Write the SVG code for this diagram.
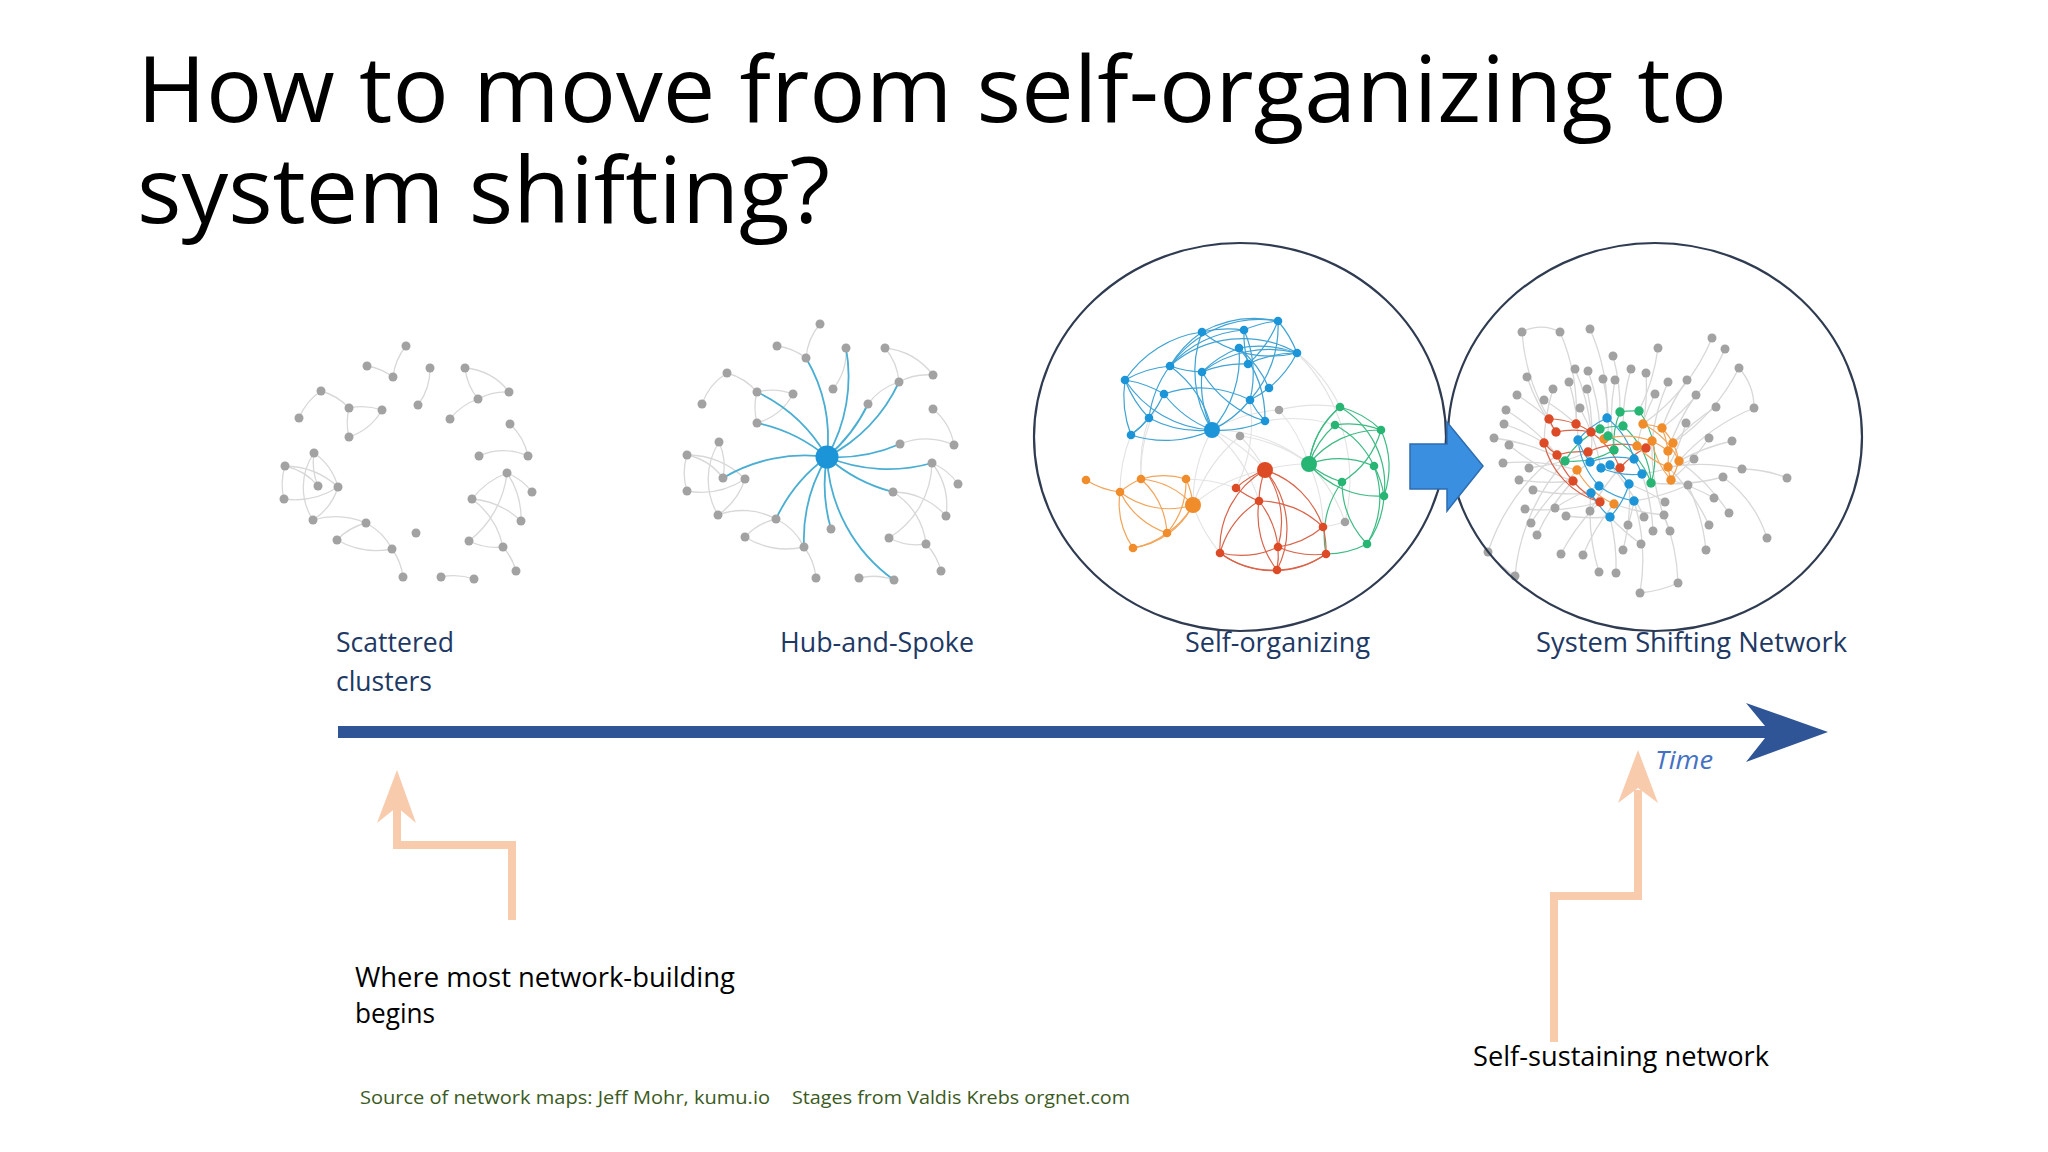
<svg xmlns="http://www.w3.org/2000/svg" width="2048" height="1152" viewBox="0 0 2048 1152">
<style>
.t{font-family:"Open Sans","Liberation Sans",sans-serif}
.title{font-size:92px;fill:#000}
.lbl{font-size:27px;fill:#203864}
.note{font-size:27px;fill:#000}
.src{font-size:19px;fill:#3b5a22}
.gn{fill:#a2a2a2}
.ge{fill:none;stroke:#d8d8d8;stroke-width:1.3}
.xe{fill:none;stroke:#e3e3e3;stroke-width:1.1}
.bn{fill:#1b95d8}
.be{fill:none;stroke:#3fa3d4;stroke-width:1.2}
.sp{fill:none;stroke:#4aaed3;stroke-width:1.8}
.grn{fill:#27b574}
.gre{fill:none;stroke:#3dbb83;stroke-width:1.2}
.rn{fill:#dd4a26}
.re{fill:none;stroke:#d9644a;stroke-width:1.2}
.on{fill:#f08c2a}
.oe{fill:none;stroke:#f2a55a;stroke-width:1.2}
.ring{fill:none;stroke:#2f3b50;stroke-width:2.2}
.peach{fill:none;stroke:#f8cbad;stroke-width:8}
</style>
<rect width="2048" height="1152" fill="#ffffff"/>

<g id="title" class="t title">
<text x="137" y="122" textLength="1590" lengthAdjust="spacingAndGlyphs">How to move from self-organizing to</text>
<text x="137" y="223" textLength="693" lengthAdjust="spacingAndGlyphs">system shifting?</text>
</g>

<g id="scattered-clusters">
<g class="ge">
<path d="M393 377 A60 60 0 0 1 406 346"/>
<path d="M367 366 A60 60 0 0 1 393 377"/>
<path d="M430 368 A60 60 0 0 1 418 405"/>
<path d="M465 368 A60 60 0 0 1 509 392"/>
<path d="M465 368 A60 60 0 0 0 478 399"/>
<path d="M478 399 A60 60 0 0 1 509 392"/>
<path d="M450 419 A60 60 0 0 1 478 399"/>
<path d="M299 418 A60 60 0 0 1 321 391"/>
<path d="M321 391 A60 60 0 0 1 349 408"/>
<path d="M349 408 A60 60 0 0 1 382 410"/>
<path d="M349 437 A60 60 0 0 1 349 408"/>
<path d="M349 437 A60 60 0 0 0 382 410"/>
<path d="M510 424 A60 60 0 0 1 528 456"/>
<path d="M479 456 A60 60 0 0 1 528 456"/>
<path d="M285 466 A80 80 0 0 1 338 487"/>
<path d="M285 466 A60 60 0 0 1 318 486"/>
<path d="M284 499 A60 60 0 0 1 285 466"/>
<path d="M284 499 A80 80 0 0 0 338 487"/>
<path d="M314 453 A60 60 0 0 1 338 487"/>
<path d="M313 520 A60 60 0 0 1 314 453"/>
<path d="M313 520 A60 60 0 0 0 338 487"/>
<path d="M314 453 A60 60 0 0 0 318 486"/>
<path d="M313 520 A80 80 0 0 1 366 523"/>
<path d="M337 540 A60 60 0 0 1 366 523"/>
<path d="M337 540 A80 80 0 0 0 392 549"/>
<path d="M366 523 A60 60 0 0 1 392 549"/>
<path d="M392 549 A60 60 0 0 1 403 577"/>
<path d="M472 499 A80 80 0 0 1 507 473"/>
<path d="M507 473 A60 60 0 0 1 532 492"/>
<path d="M507 473 A80 80 0 0 1 521 521"/>
<path d="M472 499 A80 80 0 0 1 521 521"/>
<path d="M472 499 A80 80 0 0 1 503 547"/>
<path d="M469 541 A100 100 0 0 0 507 473"/>
<path d="M469 541 A60 60 0 0 0 503 547"/>
<path d="M503 547 A60 60 0 0 1 516 571"/>
<path d="M441 577 A60 60 0 0 1 474 579"/>
</g>
<g class="gn">
<circle cx="406" cy="346" r="4.5"/><circle cx="367" cy="366" r="4.5"/><circle cx="393" cy="377" r="4.5"/>
<circle cx="430" cy="368" r="4.5"/><circle cx="418" cy="405" r="4.5"/><circle cx="465" cy="368" r="4.5"/>
<circle cx="509" cy="392" r="4.5"/><circle cx="478" cy="399" r="4.5"/><circle cx="450" cy="419" r="4.5"/>
<circle cx="321" cy="391" r="4.5"/><circle cx="299" cy="418" r="4.5"/><circle cx="349" cy="408" r="4.5"/>
<circle cx="382" cy="410" r="4.5"/><circle cx="349" cy="437" r="4.5"/><circle cx="510" cy="424" r="4.5"/>
<circle cx="479" cy="456" r="4.5"/><circle cx="528" cy="456" r="4.5"/><circle cx="314" cy="453" r="4.5"/>
<circle cx="285" cy="466" r="4.5"/><circle cx="318" cy="486" r="4.5"/><circle cx="338" cy="487" r="4.5"/>
<circle cx="284" cy="499" r="4.5"/><circle cx="313" cy="520" r="4.5"/><circle cx="507" cy="473" r="4.5"/>
<circle cx="532" cy="492" r="4.5"/><circle cx="472" cy="499" r="4.5"/><circle cx="521" cy="521" r="4.5"/>
<circle cx="366" cy="523" r="4.5"/><circle cx="337" cy="540" r="4.5"/><circle cx="392" cy="549" r="4.5"/>
<circle cx="416" cy="533" r="4.5"/><circle cx="469" cy="541" r="4.5"/><circle cx="503" cy="547" r="4.5"/>
<circle cx="403" cy="577" r="4.5"/><circle cx="441" cy="577" r="4.5"/><circle cx="474" cy="579" r="4.5"/>
<circle cx="516" cy="571" r="4.5"/>
</g>
<text class="t lbl" x="336" y="652" textLength="118" lengthAdjust="spacingAndGlyphs">Scattered</text>
<text class="t lbl" x="336" y="691" textLength="96" lengthAdjust="spacingAndGlyphs">clusters</text>
</g>

<g id="hub-and-spoke">
<g class="ge">
<path d="M820 324 A60 60 0 0 0 806 358"/>
<path d="M777 346 A60 60 0 0 1 806 358"/>
<path d="M846 348 A60 60 0 0 1 833 389"/>
<path d="M885 348 A60 60 0 0 1 899 382"/>
<path d="M885 348 A70 70 0 0 1 933 375"/>
<path d="M899 382 A60 60 0 0 1 933 375"/>
<path d="M868 404 A60 60 0 0 1 899 382"/>
<path d="M727 373 A60 60 0 0 0 702 404"/>
<path d="M727 373 A60 60 0 0 1 757 392"/>
<path d="M757 392 A60 60 0 0 1 793 394"/>
<path d="M757 392 A60 60 0 0 0 757 423"/>
<path d="M757 423 A60 60 0 0 0 793 394"/>
<path d="M933 409 A60 60 0 0 1 954 445"/>
<path d="M900 444 A70 70 0 0 1 954 445"/>
<path d="M719 442 A60 60 0 0 1 723 478"/>
<path d="M719 442 A70 70 0 0 0 718 515"/>
<path d="M687 455 A80 80 0 0 1 745 479"/>
<path d="M687 455 A60 60 0 0 0 687 491"/>
<path d="M687 491 A80 80 0 0 0 745 479"/>
<path d="M687 455 A60 60 0 0 1 723 478"/>
<path d="M718 515 A70 70 0 0 1 776 519"/>
<path d="M718 515 A70 70 0 0 0 745 479"/>
<path d="M745 537 A60 60 0 0 1 776 519"/>
<path d="M745 537 A80 80 0 0 0 804 547"/>
<path d="M776 519 A60 60 0 0 1 804 547"/>
<path d="M804 547 A60 60 0 0 1 816 578"/>
<path d="M859 578 A60 60 0 0 1 894 580"/>
<path d="M932 463 A60 60 0 0 1 958 484"/>
<path d="M932 463 A70 70 0 0 1 946 516"/>
<path d="M932 463 A90 90 0 0 1 889 538"/>
<path d="M893 492 A70 70 0 0 1 946 516"/>
<path d="M893 492 A70 70 0 0 1 926 544"/>
<path d="M889 538 A60 60 0 0 0 926 544"/>
<path d="M926 544 A60 60 0 0 1 941 571"/>
</g>
<g class="sp">
<path d="M827 457 A160 160 0 0 0 806 358"/>
<path d="M827 457 A160 160 0 0 0 846 348"/>
<path d="M827 457 A160 160 0 0 0 868 404"/>
<path d="M827 457 A160 160 0 0 0 899 382"/>
<path d="M827 457 A160 160 0 0 0 757 392"/>
<path d="M827 457 A160 160 0 0 0 757 423"/>
<path d="M827 457 A160 160 0 0 0 723 478"/>
<path d="M827 457 A160 160 0 0 0 900 444"/>
<path d="M827 457 A160 160 0 0 0 932 463"/>
<path d="M827 457 A160 160 0 0 0 893 492"/>
<path d="M827 457 A160 160 0 0 0 776 519"/>
<path d="M827 457 A160 160 0 0 0 804 547"/>
<path d="M827 457 A160 160 0 0 0 831 529"/>
<path d="M827 457 A160 160 0 0 0 894 580"/>
</g>
<g class="gn">
<circle cx="820" cy="324" r="4.5"/><circle cx="777" cy="346" r="4.5"/><circle cx="806" cy="358" r="4.5"/>
<circle cx="846" cy="348" r="4.5"/><circle cx="833" cy="389" r="4.5"/><circle cx="885" cy="348" r="4.5"/>
<circle cx="933" cy="375" r="4.5"/><circle cx="899" cy="382" r="4.5"/><circle cx="868" cy="404" r="4.5"/>
<circle cx="727" cy="373" r="4.5"/><circle cx="702" cy="404" r="4.5"/><circle cx="757" cy="392" r="4.5"/>
<circle cx="793" cy="394" r="4.5"/><circle cx="757" cy="423" r="4.5"/><circle cx="933" cy="409" r="4.5"/>
<circle cx="900" cy="444" r="4.5"/><circle cx="954" cy="445" r="4.5"/><circle cx="719" cy="442" r="4.5"/>
<circle cx="687" cy="455" r="4.5"/><circle cx="723" cy="478" r="4.5"/><circle cx="745" cy="479" r="4.5"/>
<circle cx="687" cy="491" r="4.5"/><circle cx="718" cy="515" r="4.5"/><circle cx="932" cy="463" r="4.5"/>
<circle cx="958" cy="484" r="4.5"/><circle cx="893" cy="492" r="4.5"/><circle cx="946" cy="516" r="4.5"/>
<circle cx="776" cy="519" r="4.5"/><circle cx="745" cy="537" r="4.5"/><circle cx="804" cy="547" r="4.5"/>
<circle cx="831" cy="529" r="4.5"/><circle cx="889" cy="538" r="4.5"/><circle cx="926" cy="544" r="4.5"/>
<circle cx="816" cy="578" r="4.5"/><circle cx="859" cy="578" r="4.5"/><circle cx="894" cy="580" r="4.5"/>
<circle cx="941" cy="571" r="4.5"/>
</g>
<circle class="bn" cx="827" cy="457" r="11.5"/>
<text class="t lbl" x="780" y="652" textLength="194" lengthAdjust="spacingAndGlyphs">Hub-and-Spoke</text>
</g>

<g id="self-organizing">
<g class="xe">
<path d="M1212 430 A150 150 0 0 1 1265 470"/>
<path d="M1212 430 A150 150 0 0 1 1309 464"/>
<path d="M1265 470 A150 150 0 0 1 1309 464"/>
<path d="M1212 430 A150 150 0 0 0 1193 505"/>
<path d="M1193 505 A150 150 0 0 1 1265 470"/>
<path d="M1279 410 A150 150 0 0 1 1309 464"/>
<path d="M1279 410 A150 150 0 0 0 1212 430"/>
<path d="M1240 436 A150 150 0 0 1 1265 470"/>
<path d="M1240 436 A150 150 0 0 0 1193 505"/>
<path d="M1297 353 A150 150 0 0 1 1340 407"/>
<path d="M1345 522 A150 150 0 0 1 1323 527"/>
<path d="M1345 522 A150 150 0 0 0 1309 464"/>
<path d="M1131 435 A150 150 0 0 0 1120 492"/>
<path d="M1149 418 A150 150 0 0 0 1141 479"/>
<path d="M1250 400 A150 150 0 0 1 1236 488"/>
<path d="M1186 479 A150 150 0 0 1 1236 488"/>
<path d="M1193 505 A150 150 0 0 0 1220 553"/>
<path d="M1212 430 A150 150 0 0 1 1259 501"/>
<path d="M1265 421 A150 150 0 0 1 1335 425"/>
<path d="M1309 464 A150 150 0 0 1 1323 527"/>
<path d="M1279 410 A150 150 0 0 1 1340 407"/>
<path d="M1164 394 A150 150 0 0 0 1141 479"/>
<path d="M1240 436 A150 150 0 0 1 1309 464"/>
<path d="M1297 353 A180 180 0 0 1 1345 522"/>
</g>
<g class="be">
<path d="M1212 430 A110 110 0 0 1 1125 380"/>
<path d="M1212 430 A110 110 0 0 1 1149 418"/>
<path d="M1131 435 A110 110 0 0 0 1212 430"/>
<path d="M1212 430 A110 110 0 0 0 1170 366"/>
<path d="M1212 430 A110 110 0 0 1 1164 394"/>
<path d="M1212 430 A110 110 0 0 1 1202 372"/>
<path d="M1212 430 A110 110 0 0 0 1239 348"/>
<path d="M1212 430 A110 110 0 0 0 1250 400"/>
<path d="M1212 430 A110 110 0 0 0 1265 421"/>
<path d="M1212 430 A110 110 0 0 1 1202 332"/>
<path d="M1125 380 A110 110 0 0 1 1170 366"/>
<path d="M1125 380 A110 110 0 0 0 1131 435"/>
<path d="M1125 380 A110 110 0 0 0 1149 418"/>
<path d="M1170 366 A110 110 0 0 1 1202 332"/>
<path d="M1170 366 A110 110 0 0 1 1244 330"/>
<path d="M1170 366 A110 110 0 0 0 1202 372"/>
<path d="M1170 366 A110 110 0 0 1 1297 353"/>
<path d="M1170 366 A110 110 0 0 1 1278 321"/>
<path d="M1170 366 A110 110 0 0 0 1149 418"/>
<path d="M1202 332 A110 110 0 0 1 1244 330"/>
<path d="M1202 332 A110 110 0 0 1 1278 321"/>
<path d="M1202 332 A110 110 0 0 0 1297 353"/>
<path d="M1244 330 A110 110 0 0 1 1278 321"/>
<path d="M1244 330 A110 110 0 0 1 1250 400"/>
<path d="M1244 330 A110 110 0 0 0 1248 364"/>
<path d="M1239 348 A110 110 0 0 1 1297 353"/>
<path d="M1239 348 A110 110 0 0 0 1202 372"/>
<path d="M1239 348 A110 110 0 0 1 1269 388"/>
<path d="M1202 372 A110 110 0 0 1 1297 353"/>
<path d="M1202 372 A110 110 0 0 1 1248 364"/>
<path d="M1202 372 A110 110 0 0 0 1265 421"/>
<path d="M1248 364 A110 110 0 0 1 1297 353"/>
<path d="M1248 364 A110 110 0 0 0 1278 321"/>
<path d="M1278 321 A110 110 0 0 1 1297 353"/>
<path d="M1297 353 A110 110 0 0 1 1269 388"/>
<path d="M1269 388 A110 110 0 0 1 1250 400"/>
<path d="M1250 400 A110 110 0 0 0 1265 421"/>
<path d="M1250 400 A110 110 0 0 0 1164 394"/>
<path d="M1164 394 A110 110 0 0 1 1131 435"/>
<path d="M1149 418 A110 110 0 0 1 1131 435"/>
<path d="M1239 348 A110 110 0 0 1 1265 421"/>
<path d="M1278 321 A110 110 0 0 1 1250 400"/>
<path d="M1125 380 A110 110 0 0 1 1202 332"/>
<path d="M1125 380 A110 110 0 0 1 1164 394"/>
</g>
<g class="gre">
<path d="M1309 464 A90 90 0 0 1 1340 407"/>
<path d="M1309 464 A90 90 0 0 1 1335 425"/>
<path d="M1309 464 A90 90 0 0 1 1381 430"/>
<path d="M1309 464 A90 90 0 0 1 1374 466"/>
<path d="M1309 464 A90 90 0 0 0 1342 482"/>
<path d="M1309 464 A90 90 0 0 0 1384 496"/>
<path d="M1340 407 A90 90 0 0 1 1381 430"/>
<path d="M1335 425 A90 90 0 0 1 1381 430"/>
<path d="M1335 425 A90 90 0 0 1 1374 466"/>
<path d="M1340 407 A90 90 0 0 1 1384 496"/>
<path d="M1381 430 A90 90 0 0 1 1384 496"/>
<path d="M1374 466 A90 90 0 0 1 1384 496"/>
<path d="M1342 482 A90 90 0 0 0 1367 544"/>
<path d="M1381 430 A90 90 0 0 1 1342 482"/>
<path d="M1374 466 A90 90 0 0 1 1367 544"/>
<path d="M1384 496 A90 90 0 0 1 1367 544"/>
<path d="M1367 544 A90 90 0 0 1 1326 554"/>
<path d="M1342 482 A90 90 0 0 0 1326 554"/>
<path d="M1340 407 A90 90 0 0 0 1309 464"/>
</g>
<g class="re">
<path d="M1265 470 A90 90 0 0 0 1236 488"/>
<path d="M1265 470 A90 90 0 0 0 1259 501"/>
<path d="M1265 470 A90 90 0 0 1 1323 527"/>
<path d="M1265 470 A90 90 0 0 1 1278 547"/>
<path d="M1265 470 A90 90 0 0 0 1220 553"/>
<path d="M1265 470 A90 90 0 0 1 1277 570"/>
<path d="M1236 488 A90 90 0 0 0 1259 501"/>
<path d="M1259 501 A90 90 0 0 0 1220 553"/>
<path d="M1259 501 A90 90 0 0 1 1278 547"/>
<path d="M1259 501 A90 90 0 0 0 1277 570"/>
<path d="M1259 501 A90 90 0 0 1 1323 527"/>
<path d="M1323 527 A90 90 0 0 1 1278 547"/>
<path d="M1323 527 A90 90 0 0 1 1326 554"/>
<path d="M1278 547 A90 90 0 0 0 1326 554"/>
<path d="M1278 547 A90 90 0 0 1 1220 553"/>
<path d="M1220 553 A90 90 0 0 0 1277 570"/>
<path d="M1277 570 A90 90 0 0 0 1326 554"/>
<path d="M1278 547 A90 90 0 0 1 1277 570"/>
<path d="M1220 553 A90 90 0 0 0 1326 554"/>
</g>
<g class="oe">
<path d="M1193 505 A80 80 0 0 0 1141 479"/>
<path d="M1193 505 A80 80 0 0 0 1186 479"/>
<path d="M1193 505 A80 80 0 0 1 1120 492"/>
<path d="M1193 505 A80 80 0 0 1 1167 533"/>
<path d="M1193 505 A80 80 0 0 1 1133 548"/>
<path d="M1086 480 A80 80 0 0 0 1120 492"/>
<path d="M1141 479 A80 80 0 0 0 1120 492"/>
<path d="M1141 479 A80 80 0 0 1 1186 479"/>
<path d="M1141 479 A80 80 0 0 1 1167 533"/>
<path d="M1120 492 A80 80 0 0 0 1133 548"/>
<path d="M1186 479 A80 80 0 0 1 1167 533"/>
<path d="M1167 533 A80 80 0 0 1 1133 548"/>
<path d="M1120 492 A80 80 0 0 0 1167 533"/>
</g>
<g class="bn">
<circle cx="1278" cy="321" r="4.3"/><circle cx="1202" cy="332" r="4.3"/><circle cx="1244" cy="330" r="4.3"/>
<circle cx="1239" cy="348" r="4.3"/><circle cx="1297" cy="353" r="4.3"/><circle cx="1170" cy="366" r="4.3"/>
<circle cx="1202" cy="372" r="4.3"/><circle cx="1248" cy="364" r="4.3"/><circle cx="1125" cy="380" r="4.3"/>
<circle cx="1164" cy="394" r="4.3"/><circle cx="1269" cy="388" r="4.3"/><circle cx="1250" cy="400" r="4.3"/>
<circle cx="1149" cy="418" r="4.3"/><circle cx="1265" cy="421" r="4.3"/><circle cx="1131" cy="435" r="4.3"/>
<circle cx="1212" cy="430" r="8"/>
</g>
<g class="gn">
<circle cx="1279" cy="410" r="4.3"/><circle cx="1240" cy="436" r="4.3"/><circle cx="1345" cy="522" r="4.3"/>
</g>
<g class="grn">
<circle cx="1340" cy="407" r="4.3"/><circle cx="1335" cy="425" r="4.3"/><circle cx="1381" cy="430" r="4.3"/>
<circle cx="1374" cy="466" r="4.3"/><circle cx="1342" cy="482" r="4.3"/><circle cx="1384" cy="496" r="4.3"/>
<circle cx="1367" cy="544" r="4.3"/><circle cx="1309" cy="464" r="8"/>
</g>
<g class="rn">
<circle cx="1236" cy="488" r="4.3"/><circle cx="1259" cy="501" r="4.3"/><circle cx="1323" cy="527" r="4.3"/>
<circle cx="1278" cy="547" r="4.3"/><circle cx="1220" cy="553" r="4.3"/><circle cx="1326" cy="554" r="4.3"/>
<circle cx="1277" cy="570" r="4.3"/><circle cx="1265" cy="470" r="8"/>
</g>
<g class="on">
<circle cx="1086" cy="480" r="4.3"/><circle cx="1141" cy="479" r="4.3"/><circle cx="1186" cy="479" r="4.3"/>
<circle cx="1120" cy="492" r="4.3"/><circle cx="1167" cy="533" r="4.3"/><circle cx="1133" cy="548" r="4.3"/>
<circle cx="1193" cy="505" r="8"/>
</g>
<ellipse class="ring" cx="1240" cy="437" rx="206" ry="194"/>
<text class="t lbl" x="1185" y="652" textLength="185" lengthAdjust="spacingAndGlyphs">Self-organizing</text>
</g>

<g id="system-shifting-network">
<g class="ge" stroke-width="1">
<path d="M1522 332 A40 40 0 0 1 1560 332"/>
<path d="M1522 332 A200 200 0 0 0 1549 419"/>
<path d="M1560 332 A200 200 0 0 1 1576 424"/>
<path d="M1590 329 A200 200 0 0 1 1607 418"/>
<path d="M1613 356 A200 200 0 0 1 1620 412"/>
<path d="M1712 338 A200 200 0 0 1 1643 424"/>
<path d="M1725 349 A200 200 0 0 1 1662 428"/>
<path d="M1658 348 A200 200 0 0 1 1639 411"/>
<path d="M1739 368 A200 200 0 0 1 1673 443"/>
<path d="M1527 377 A200 200 0 0 0 1556 432"/>
<path d="M1575 369 A200 200 0 0 1 1591 432"/>
<path d="M1588 371 A200 200 0 0 1 1600 429"/>
<path d="M1631 369 A200 200 0 0 0 1623 426"/>
<path d="M1646 373 A200 200 0 0 1 1643 424"/>
<path d="M1603 379 A200 200 0 0 1 1608 436"/>
<path d="M1615 380 A200 200 0 0 0 1614 450"/>
<path d="M1569 382 A200 200 0 0 1 1578 440"/>
<path d="M1553 389 A200 200 0 0 0 1544 443"/>
<path d="M1587 389 A200 200 0 0 1 1590 462"/>
<path d="M1668 382 A200 200 0 0 0 1652 441"/>
<path d="M1687 380 A200 200 0 0 0 1662 428"/>
<path d="M1517 395 A200 200 0 0 1 1549 419"/>
<path d="M1544 400 A200 200 0 0 1 1576 424"/>
<path d="M1580 408 A200 200 0 0 1 1601 468"/>
<path d="M1655 394 A200 200 0 0 0 1637 446"/>
<path d="M1696 395 A200 200 0 0 0 1668 451"/>
<path d="M1716 407 A200 200 0 0 0 1673 443"/>
<path d="M1754 408 A200 200 0 0 0 1679 461"/>
<path d="M1754 408 A60 60 0 0 0 1739 368"/>
<path d="M1506 410 A200 200 0 0 1 1557 455"/>
<path d="M1504 424 A200 200 0 0 1 1544 443"/>
<path d="M1494 438 A200 200 0 0 1 1565 461"/>
<path d="M1509 445 A200 200 0 0 0 1573 481"/>
<path d="M1686 423 A200 200 0 0 1 1668 467"/>
<path d="M1709 438 A200 200 0 0 1 1671 480"/>
<path d="M1732 441 A200 200 0 0 0 1679 461"/>
<path d="M1503 463 A200 200 0 0 1 1577 470"/>
<path d="M1529 468 A200 200 0 0 0 1588 452"/>
<path d="M1694 459 A200 200 0 0 1 1642 474"/>
<path d="M1742 469 A200 200 0 0 0 1668 467"/>
<path d="M1723 477 A200 200 0 0 1 1651 483"/>
<path d="M1787 478 A120 120 0 0 0 1742 469"/>
<path d="M1519 480 A200 200 0 0 0 1573 481"/>
<path d="M1533 490 A200 200 0 0 0 1591 493"/>
<path d="M1688 485 A200 200 0 0 1 1634 501"/>
<path d="M1714 498 A200 200 0 0 0 1671 480"/>
<path d="M1525 509 A200 200 0 0 0 1600 502"/>
<path d="M1555 508 A200 200 0 0 1 1599 486"/>
<path d="M1566 516 A200 200 0 0 0 1610 517"/>
<path d="M1590 511 A200 200 0 0 1 1620 468"/>
<path d="M1665 502 A200 200 0 0 0 1629 484"/>
<path d="M1664 515 A200 200 0 0 1 1614 504"/>
<path d="M1729 513 A200 200 0 0 0 1679 461"/>
<path d="M1644 517 A200 200 0 0 0 1610 465"/>
<path d="M1531 523 A200 200 0 0 1 1590 462"/>
<path d="M1628 525 A200 200 0 0 0 1634 501"/>
<path d="M1653 531 A200 200 0 0 0 1642 474"/>
<path d="M1670 531 A200 200 0 0 1 1652 441"/>
<path d="M1537 535 A200 200 0 0 1 1573 481"/>
<path d="M1709 525 A200 200 0 0 0 1668 467"/>
<path d="M1767 538 A120 120 0 0 0 1723 477"/>
<path d="M1641 544 A200 200 0 0 1 1610 517"/>
<path d="M1488 552 A200 200 0 0 1 1557 455"/>
<path d="M1561 554 A200 200 0 0 1 1600 502"/>
<path d="M1583 555 A200 200 0 0 1 1614 504"/>
<path d="M1623 550 A200 200 0 0 0 1629 484"/>
<path d="M1706 550 A200 200 0 0 0 1688 485"/>
<path d="M1599 572 A200 200 0 0 1 1591 493"/>
<path d="M1616 573 A200 200 0 0 0 1610 517"/>
<path d="M1515 576 A200 200 0 0 1 1565 461"/>
<path d="M1678 583 A200 200 0 0 0 1664 515"/>
<path d="M1640 593 A200 200 0 0 0 1634 501"/>
<path d="M1488 552 A120 120 0 0 0 1515 576"/>
<path d="M1640 593 A120 120 0 0 0 1678 583"/>
</g>
<g class="re" stroke-width="1">
<path d="M1549 419 A80 80 0 0 1 1576 424"/>
<path d="M1549 419 A80 80 0 0 0 1556 432"/>
<path d="M1556 432 A80 80 0 0 1 1591 432"/>
<path d="M1544 443 A80 80 0 0 0 1557 455"/>
<path d="M1557 455 A80 80 0 0 1 1588 452"/>
<path d="M1576 424 A80 80 0 0 1 1591 432"/>
<path d="M1588 452 A80 80 0 0 1 1646 448"/>
<path d="M1573 481 A80 80 0 0 0 1600 502"/>
<path d="M1620 468 A80 80 0 0 1 1646 448"/>
<path d="M1557 455 A80 80 0 0 0 1573 481"/>
<path d="M1591 432 A80 80 0 0 1 1620 468"/>
<path d="M1544 443 A80 80 0 0 0 1600 502"/>
</g>
<g class="gre" stroke-width="1">
<path d="M1620 412 A80 80 0 0 1 1639 411"/>
<path d="M1600 429 A80 80 0 0 1 1623 426"/>
<path d="M1608 436 A80 80 0 0 1 1651 483"/>
<path d="M1614 450 A80 80 0 0 1 1565 461"/>
<path d="M1639 411 A80 80 0 0 1 1651 483"/>
<path d="M1620 412 A80 80 0 0 0 1614 450"/>
<path d="M1600 429 A80 80 0 0 0 1565 461"/>
<path d="M1623 426 A80 80 0 0 1 1651 483"/>
</g>
<g class="be" stroke-width="1">
<path d="M1607 418 A80 80 0 0 0 1578 440"/>
<path d="M1578 440 A80 80 0 0 0 1590 462"/>
<path d="M1590 462 A80 80 0 0 1 1634 459"/>
<path d="M1601 468 A80 80 0 0 0 1642 474"/>
<path d="M1610 465 A80 80 0 0 1 1629 484"/>
<path d="M1599 486 A80 80 0 0 0 1634 501"/>
<path d="M1591 493 A80 80 0 0 0 1610 517"/>
<path d="M1629 484 A80 80 0 0 1 1610 517"/>
<path d="M1634 459 A80 80 0 0 1 1642 474"/>
<path d="M1607 418 A80 80 0 0 1 1634 459"/>
<path d="M1578 440 A80 80 0 0 0 1599 486"/>
</g>
<g class="oe" stroke-width="1">
<path d="M1643 424 A80 80 0 0 1 1662 428"/>
<path d="M1662 428 A80 80 0 0 1 1673 443"/>
<path d="M1652 441 A80 80 0 0 1 1668 451"/>
<path d="M1673 443 A80 80 0 0 1 1679 461"/>
<path d="M1679 461 A80 80 0 0 1 1671 480"/>
<path d="M1668 467 A80 80 0 0 0 1671 480"/>
<path d="M1637 446 A80 80 0 0 0 1668 467"/>
<path d="M1604 439 A80 80 0 0 1 1652 441"/>
<path d="M1577 470 A80 80 0 0 0 1614 504"/>
<path d="M1643 424 A80 80 0 0 1 1679 461"/>
<path d="M1652 441 A80 80 0 0 0 1671 480"/>
<path d="M1662 428 A80 80 0 0 1 1668 467"/>
</g>
<g class="gn">
<circle cx="1522" cy="332" r="4.5"/><circle cx="1560" cy="332" r="4.5"/><circle cx="1590" cy="329" r="4.5"/>
<circle cx="1613" cy="356" r="4.5"/><circle cx="1712" cy="338" r="4.5"/><circle cx="1725" cy="349" r="4.5"/>
<circle cx="1658" cy="348" r="4.5"/><circle cx="1739" cy="368" r="4.5"/><circle cx="1527" cy="377" r="4.5"/>
<circle cx="1575" cy="369" r="4.5"/><circle cx="1588" cy="371" r="4.5"/><circle cx="1631" cy="369" r="4.5"/>
<circle cx="1646" cy="373" r="4.5"/><circle cx="1603" cy="379" r="4.5"/><circle cx="1615" cy="380" r="4.5"/>
<circle cx="1569" cy="382" r="4.5"/><circle cx="1553" cy="389" r="4.5"/><circle cx="1587" cy="389" r="4.5"/>
<circle cx="1668" cy="382" r="4.5"/><circle cx="1687" cy="380" r="4.5"/><circle cx="1517" cy="395" r="4.5"/>
<circle cx="1544" cy="400" r="4.5"/><circle cx="1580" cy="408" r="4.5"/><circle cx="1655" cy="394" r="4.5"/>
<circle cx="1696" cy="395" r="4.5"/><circle cx="1716" cy="407" r="4.5"/><circle cx="1754" cy="408" r="4.5"/>
<circle cx="1506" cy="410" r="4.5"/><circle cx="1504" cy="424" r="4.5"/><circle cx="1494" cy="438" r="4.5"/>
<circle cx="1509" cy="445" r="4.5"/><circle cx="1686" cy="423" r="4.5"/><circle cx="1709" cy="438" r="4.5"/>
<circle cx="1732" cy="441" r="4.5"/><circle cx="1503" cy="463" r="4.5"/><circle cx="1529" cy="468" r="4.5"/>
<circle cx="1694" cy="459" r="4.5"/><circle cx="1742" cy="469" r="4.5"/><circle cx="1723" cy="477" r="4.5"/>
<circle cx="1787" cy="478" r="4.5"/><circle cx="1519" cy="480" r="4.5"/><circle cx="1533" cy="490" r="4.5"/>
<circle cx="1688" cy="485" r="4.5"/><circle cx="1714" cy="498" r="4.5"/><circle cx="1525" cy="509" r="4.5"/>
<circle cx="1555" cy="508" r="4.5"/><circle cx="1566" cy="516" r="4.5"/><circle cx="1590" cy="511" r="4.5"/>
<circle cx="1665" cy="502" r="4.5"/><circle cx="1664" cy="515" r="4.5"/><circle cx="1729" cy="513" r="4.5"/>
<circle cx="1644" cy="517" r="4.5"/><circle cx="1531" cy="523" r="4.5"/><circle cx="1628" cy="525" r="4.5"/>
<circle cx="1653" cy="531" r="4.5"/><circle cx="1670" cy="531" r="4.5"/><circle cx="1537" cy="535" r="4.5"/>
<circle cx="1709" cy="525" r="4.5"/><circle cx="1767" cy="538" r="4.5"/><circle cx="1641" cy="544" r="4.5"/>
<circle cx="1488" cy="552" r="4.5"/><circle cx="1561" cy="554" r="4.5"/><circle cx="1583" cy="555" r="4.5"/>
<circle cx="1623" cy="550" r="4.5"/><circle cx="1706" cy="550" r="4.5"/><circle cx="1599" cy="572" r="4.5"/>
<circle cx="1616" cy="573" r="4.5"/><circle cx="1515" cy="576" r="4.5"/><circle cx="1678" cy="583" r="4.5"/>
<circle cx="1640" cy="593" r="4.5"/>
</g>
<g class="rn">
<circle cx="1549" cy="419" r="4.7"/><circle cx="1576" cy="424" r="4.7"/><circle cx="1556" cy="432" r="4.7"/>
<circle cx="1591" cy="432" r="4.7"/><circle cx="1544" cy="443" r="4.7"/><circle cx="1557" cy="455" r="4.7"/>
<circle cx="1588" cy="452" r="4.7"/><circle cx="1646" cy="448" r="4.7"/><circle cx="1620" cy="468" r="4.7"/>
<circle cx="1573" cy="481" r="4.7"/><circle cx="1600" cy="502" r="4.7"/>
</g>
<g class="on">
<circle cx="1643" cy="424" r="4.7"/><circle cx="1662" cy="428" r="4.7"/><circle cx="1604" cy="439" r="4.7"/>
<circle cx="1652" cy="441" r="4.7"/><circle cx="1637" cy="446" r="4.7"/><circle cx="1673" cy="443" r="4.7"/>
<circle cx="1668" cy="451" r="4.7"/><circle cx="1679" cy="461" r="4.7"/><circle cx="1668" cy="467" r="4.7"/>
<circle cx="1671" cy="480" r="4.7"/><circle cx="1577" cy="470" r="4.7"/><circle cx="1614" cy="504" r="4.7"/>
</g>
<g class="grn">
<circle cx="1620" cy="412" r="4.7"/><circle cx="1639" cy="411" r="4.7"/><circle cx="1600" cy="429" r="4.7"/>
<circle cx="1623" cy="426" r="4.7"/><circle cx="1608" cy="436" r="4.7"/><circle cx="1614" cy="450" r="4.7"/>
<circle cx="1565" cy="461" r="4.7"/><circle cx="1651" cy="483" r="4.7"/>
</g>
<g class="bn">
<circle cx="1607" cy="418" r="4.7"/><circle cx="1578" cy="440" r="4.7"/><circle cx="1590" cy="462" r="4.7"/>
<circle cx="1601" cy="468" r="4.7"/><circle cx="1610" cy="465" r="4.7"/><circle cx="1634" cy="459" r="4.7"/>
<circle cx="1642" cy="474" r="4.7"/><circle cx="1629" cy="484" r="4.7"/><circle cx="1599" cy="486" r="4.7"/>
<circle cx="1591" cy="493" r="4.7"/><circle cx="1634" cy="501" r="4.7"/><circle cx="1610" cy="517" r="4.7"/>
</g>
<ellipse class="ring" cx="1655" cy="437" rx="207" ry="194"/>
<text class="t lbl" x="1536" y="652" textLength="311" lengthAdjust="spacingAndGlyphs">System Shifting Network</text>
</g>

<g id="connectors">
<polygon id="block-arrow" points="1410,444 1447,444 1447,422 1483,466 1447,511 1447,489 1410,489" fill="#3b8fe0" stroke="#2c6cb0" stroke-width="1.5"/>
<polygon id="time-arrow" points="338,726 1765,726 1746,703 1828,732 1746,762 1765,738 338,738" fill="#2f5597"/>
<g id="begin-arrow">
<polyline class="peach" points="512,920 512,845 397,845 397,800"/>
<polygon points="397,770 416,823 397,807 377,823" fill="#f8cbad"/>
</g>
<g id="sustain-arrow">
<polyline class="peach" points="1554,1042 1554,896 1638,896 1638,790"/>
<polygon points="1638,750 1658,803 1638,788 1618,803" fill="#f8cbad"/>
</g>
</g>

<g id="notes" class="t">
<text x="1655" y="769" font-size="25" font-style="italic" fill="#4472c4" textLength="58" lengthAdjust="spacingAndGlyphs">Time</text>
<text class="note" x="355" y="987" textLength="380" lengthAdjust="spacingAndGlyphs">Where most network-building</text>
<text class="note" x="355" y="1023" textLength="80" lengthAdjust="spacingAndGlyphs">begins</text>
<text class="note" x="1473" y="1066" textLength="296" lengthAdjust="spacingAndGlyphs">Self-sustaining network</text>
<text class="src" x="360" y="1104" textLength="410" lengthAdjust="spacingAndGlyphs">Source of network maps: Jeff Mohr, kumu.io</text>
<text class="src" x="792" y="1104" textLength="338" lengthAdjust="spacingAndGlyphs">Stages from Valdis Krebs orgnet.com</text>
</g>
</svg>
